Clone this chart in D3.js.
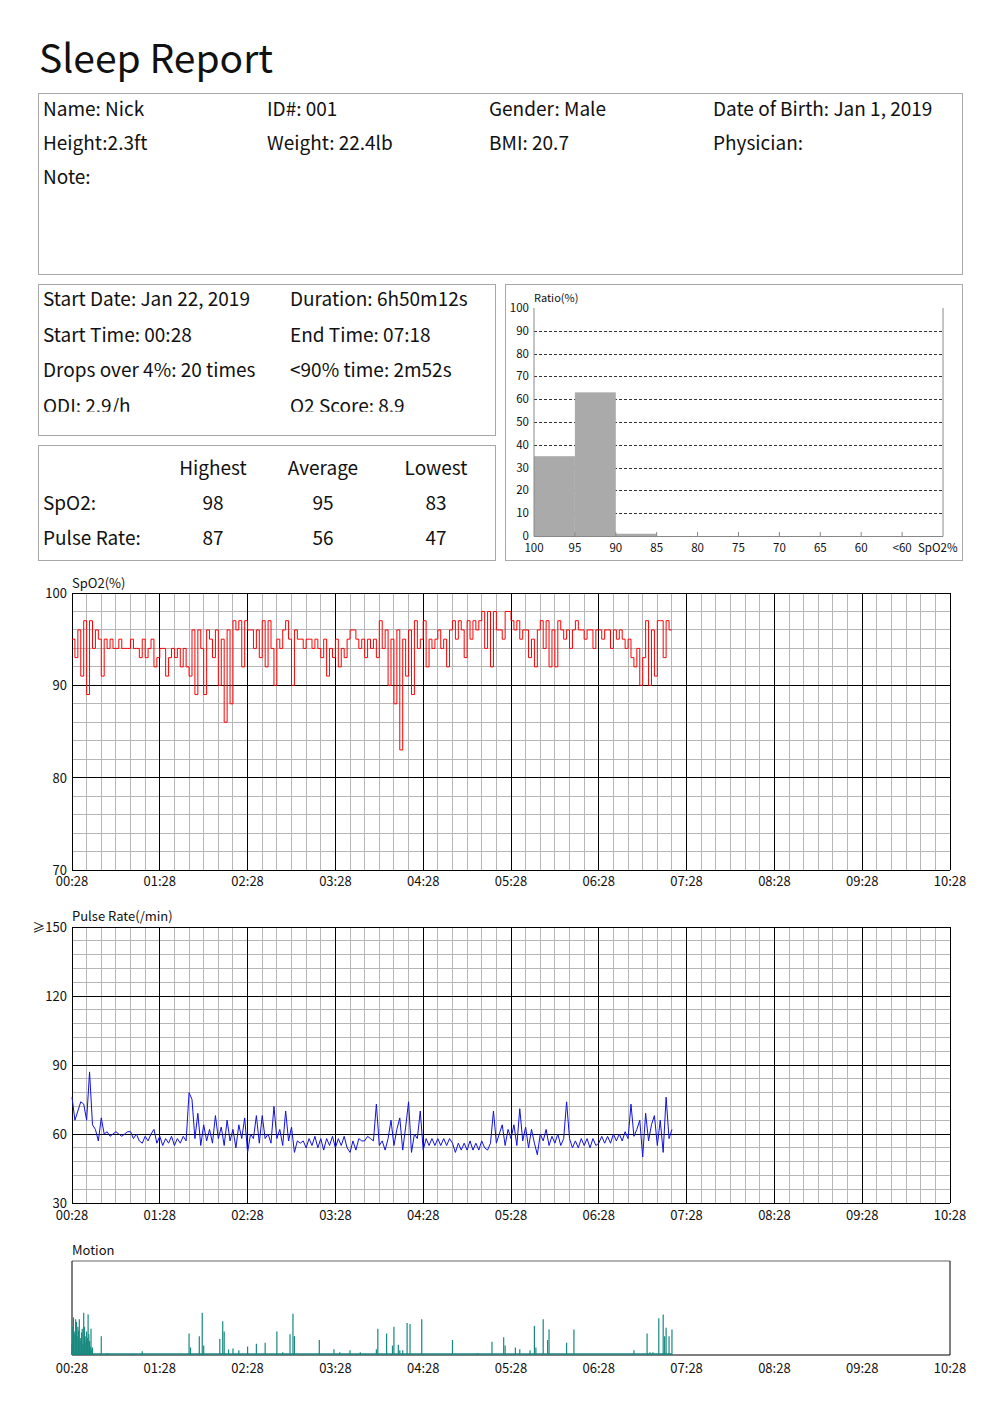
<!DOCTYPE html>
<html>
<head>
<meta charset="utf-8">
<script src="https://cdn.jsdelivr.net/npm/d3@7"></script>
<style>
  body { margin: 0; background: #fff; }
  svg { display: block; }
  text { font-family: "Noto Sans CJK SC", "Noto Sans", sans-serif; fill: #111; }
</style>
</head>
<body>
<div id="report"></div>
<script>
// ---- data ----
var hourLabels = ["00:28","01:28","02:28","03:28","04:28","05:28","06:28","07:28","08:28","09:28","10:28"];
var sampleStep = 2; // minutes between samples

// SpO2 (%) every 2 minutes from 00:28
var spo2Values = [
  95,93,96,91,97,89,97,94,96,95, 91,95,94,95,94,94,95,94,94,94,
  95,94,94,93,95,93,94,95,92,93, 94,94,91,93,94,93,94,92,94,92,
  91,96,89,96,94,89,96,95,93,96, 90,95,86,96,88,97,96,97,92,97,
  96,96,94,96,93,97,92,97,94,90, 95,94,96,97,95,90,96,95,95,94,
  95,95,94,95,94,93,95,91,94,93, 95,92,94,93,95,96,96,95,94,95,
  93,95,94,95,93,97,94,96,90,95, 88,96,83,95,91,96,89,97,94,95,
  97,92,95,94,95,96,94,95,92,96, 97,95,97,96,93,97,95,97,96,97,
  98,94,98,92,98,96,96,95,98,98, 97,96,97,95,96,96,93,95,92,96,
  97,94,97,92,96,92,97,96,95,96, 94,96,97,96,96,95,96,96,94,96,
  96,95,96,96,94,96,95,96,95,94, 95,93,92,94,90,93,97,90,96,91,
  97,97,93,97,96,96
];

// pulse rate (/min) every 2 minutes from 00:28
var pulseValues = [
  76,66,70,74,73,66,87,64,62,57, 67,60,61,59,60,61,60,59,60,61,
  61,58,60,57,56,59,57,60,62,56, 59,55,58,56,59,55,58,56,59,57,
  78,75,58,69,55,64,57,62,56,68, 58,63,55,66,57,62,54,64,58,67,
  52,60,58,68,56,68,58,60,56,72, 58,62,55,70,57,63,52,57,56,57,
  54,58,55,59,54,58,53,58,55,59, 54,58,55,59,54,52,57,53,58,57,
  57,59,58,57,73,55,57,53,58,66, 55,62,67,53,63,74,52,60,58,70,
  53,58,55,58,55,58,55,58,55,58, 56,52,56,53,56,53,57,53,56,53,
  57,54,53,56,70,56,60,64,55,62, 58,64,55,71,57,63,54,62,56,51,
  60,57,62,55,59,56,60,55,58,74, 58,54,57,54,58,55,58,54,58,55,
  56,59,56,59,56,60,57,60,57,61, 58,73,59,62,66,50,69,57,64,68,
  55,66,52,76,58,62
];

// motion spikes: [minutes from 00:28, level %]
var motionSpikes = [
  [0,12],[0.5,30],[1,40],[1.5,25],[2,22],[2.5,38],[3,35],[3.5,20],[4,30],[4.5,26],
  [5,38],[5.5,15],[6,18],[6.5,24],[7,28],[7.5,12],[8,45],[8.5,30],[9,20],[9.5,14],
  [10,25],[10.5,18],[11,43],[11.5,22],[12,15],[12.5,9],[13,28],[13.5,6],[14,8],
  [20,20],[24,2],[40,1],[48,4],[80,23],[81,8],[87,20],[89,45],[90,10],
  [101,17],[103,36],[104,25],[107,6],[110,7],[114,5],[120,9],[126,12],[132,13],
  [140,25],[144,3],[149,22],[151,44],[152,20],[169,16],[179,6],[183,3],[190,5],
  [197,3],[201,1],[208,6],[209,28],[215,23],[219,10],[220,30],[223,11],[224,5],
  [226,5],[229,34],[231,33],[239,38],[260,16],[277,2],[287,14],[295,19],[296,10],
  [303,8],[306,6],[313,5],[316,31],[317,8],[322,38],[325,16],[326,27],[338,13],
  [343,27],[384,5],[393,23],[395,3],[397,3],[401,39],[404,43],[405,20],[406,29],
  [408,20],[410,27]
];
var recordMinutes = 410;

// SpO2 distribution
var histCategories = ["100","95","90","85","80","75","70","65","60","<60"];
var histRatios = [35, 63, 1, 0, 0, 0, 0, 0, 0, 0];

// patient / summary text
var patientRows = [
  ["Name: Nick", "ID#: 001", "Gender: Male", "Date of Birth: Jan 1, 2019"],
  ["Height:2.3ft", "Weight: 22.4lb", "BMI: 20.7", "Physician:"],
  ["Note:", "", "", ""]
];
var summaryRows = [
  ["Start Date: Jan 22, 2019", "Duration: 6h50m12s"],
  ["Start Time: 00:28", "End Time: 07:18"],
  ["Drops over 4%: 20 times", "<90% time: 2m52s"],
  ["ODI: 2.9/h", "O2 Score: 8.9"]
];
var statHeaders = ["Highest", "Average", "Lowest"];
var statRows = [
  ["SpO2:", 98, 95, 83],
  ["Pulse Rate:", 87, 56, 47]
];

// ---- page ----
var W = 1000, H = 1415;
var svg = d3.select("#report").append("svg")
  .attr("width", W).attr("height", H);

svg.append("text").attr("x", 39).attr("y", 73)
  .style("font-size", "39px").text("Sleep Report");

function box(x, y, w, h) {
  svg.append("rect").attr("x", x + 0.5).attr("y", y + 0.5)
    .attr("width", w).attr("height", h)
    .attr("fill", "none").attr("stroke", "#a8a8a8");
}

// patient box
box(38, 93, 924, 181);
var patientCols = [43, 267, 489, 713];
patientRows.forEach(function(row, r) {
  row.forEach(function(s, c) {
    if (!s) return;
    svg.append("text").attr("x", patientCols[c]).attr("y", 116 + r * 34)
      .style("font-size", "19px").text(s);
  });
});

// summary box (last row is cut off in the original)
box(38, 284, 457, 151);
svg.append("clipPath").attr("id", "sumClip")
  .append("rect").attr("x", 38).attr("y", 284).attr("width", 457).attr("height", 127.7);
var sumG = svg.append("g").attr("clip-path", "url(#sumClip)");
summaryRows.forEach(function(row, r) {
  row.forEach(function(s, c) {
    sumG.append("text").attr("x", c === 0 ? 43 : 290).attr("y", 306 + r * 35.7)
      .style("font-size", "19px").text(s);
  });
});

// stats box
box(38, 445, 457, 115);
var statX = [213, 323, 436];
statHeaders.forEach(function(s, i) {
  svg.append("text").attr("x", statX[i]).attr("y", 475)
    .attr("text-anchor", "middle").style("font-size", "19px").text(s);
});
statRows.forEach(function(row, r) {
  svg.append("text").attr("x", 43).attr("y", 510 + r * 35)
    .style("font-size", "19px").text(row[0]);
  row.slice(1).forEach(function(v, i) {
    svg.append("text").attr("x", statX[i]).attr("y", 510 + r * 35)
      .attr("text-anchor", "middle").style("font-size", "19px").text(v);
  });
});

// ---- histogram ----
box(505, 284, 457, 276);
var hx = d3.scaleLinear().domain([0, 10]).range([534, 943]);
var hy = d3.scaleLinear().domain([0, 100]).range([536, 308]);
var hist = svg.append("g");

hist.selectAll("line.dash").data(d3.range(10, 100, 10)).enter().append("line")
  .attr("x1", hx(0)).attr("x2", hx(10))
  .attr("y1", function(d) { return Math.round(hy(d)) + 0.5; })
  .attr("y2", function(d) { return Math.round(hy(d)) + 0.5; })
  .attr("stroke", "#333").attr("stroke-dasharray", "3,2");

hist.selectAll("rect.bar").data(histRatios).enter().append("rect")
  .attr("x", function(d, i) { return hx(i); })
  .attr("width", hx(1) - hx(0))
  .attr("y", function(d) { return hy(d); })
  .attr("height", function(d) { return hy(0) - hy(d); })
  .attr("fill", "#aaaaaa");

// axes frame
hist.append("line").attr("x1", hx(0)).attr("x2", hx(0)).attr("y1", hy(100)).attr("y2", hy(0) + 0.5)
  .attr("stroke", "#888");
hist.append("line").attr("x1", hx(10)).attr("x2", hx(10)).attr("y1", hy(100)).attr("y2", hy(0) + 0.5)
  .attr("stroke", "#888");
hist.append("line").attr("x1", hx(0)).attr("x2", hx(10)).attr("y1", hy(0) + 0.5).attr("y2", hy(0) + 0.5)
  .attr("stroke", "#888");
hist.selectAll("line.tick").data(d3.range(1, 10)).enter().append("line")
  .attr("x1", function(d) { return hx(d); }).attr("x2", function(d) { return hx(d); })
  .attr("y1", hy(0) - 4).attr("y2", hy(0))
  .attr("stroke", "#888");

hist.selectAll("text.yl").data(d3.range(0, 101, 10)).enter().append("text")
  .attr("x", 529).attr("y", function(d) { return hy(d) + 4; })
  .attr("text-anchor", "end").style("font-size", "11.5px")
  .text(function(d) { return d; });
hist.selectAll("text.xl").data(histCategories).enter().append("text")
  .attr("x", function(d, i) { return hx(i); }).attr("y", 552)
  .attr("text-anchor", "middle").style("font-size", "11.5px")
  .text(function(d) { return d; });
hist.append("text").attr("x", 918).attr("y", 552).style("font-size", "11.5px").text("SpO2%");
hist.append("text").attr("x", 534).attr("y", 302).style("font-size", "11px").text("Ratio(%)");

// ---- time charts ----
var x = d3.scaleLinear().domain([0, 600]).range([72, 950]);

function gridChart(y, y0, y1, minorStep, majorStep, labels) {
  var g = svg.append("g");
  var top = y(y1), bottom = y(y0);
  var minor = g.append("g").attr("stroke", "#b6b6b6").attr("shape-rendering", "crispEdges");
  minor.selectAll("line.vmin").data(d3.range(10, 600, 10).filter(function(m) { return m % 60; }))
    .enter().append("line")
    .attr("x1", function(d) { return x(d); }).attr("x2", function(d) { return x(d); })
    .attr("y1", top).attr("y2", bottom);
  minor.selectAll("line.hmin").data(d3.range(y0 + minorStep, y1, minorStep).filter(function(v) { return (v - y0) % majorStep; }))
    .enter().append("line")
    .attr("x1", x(0)).attr("x2", x(600))
    .attr("y1", function(d) { return y(d); }).attr("y2", function(d) { return y(d); });
  var major = g.append("g").attr("stroke", "#000").attr("shape-rendering", "crispEdges");
  major.selectAll("line.vmaj").data(d3.range(0, 601, 60)).enter().append("line")
    .attr("x1", function(d) { return x(d); }).attr("x2", function(d) { return x(d); })
    .attr("y1", top).attr("y2", bottom);
  major.selectAll("line.hmaj").data(d3.range(y0, y1 + 1, majorStep)).enter().append("line")
    .attr("x1", x(0)).attr("x2", x(600))
    .attr("y1", function(d) { return y(d); }).attr("y2", function(d) { return y(d); });
  g.selectAll("text.yl").data(labels).enter().append("text")
    .attr("x", 67).attr("y", function(d) { return y(d.v) + 5; })
    .attr("text-anchor", "end").style("font-size", "13px")
    .text(function(d) { return d.t; });
  return g;
}

function timeLabels(yPos) {
  svg.append("g").selectAll("text").data(hourLabels).enter().append("text")
    .attr("x", function(d, i) { return x(i * 60); }).attr("y", yPos)
    .attr("text-anchor", "middle").style("font-size", "13px")
    .text(function(d) { return d; });
}

// SpO2
var ySpo2 = d3.scaleLinear().domain([70, 100]).range([870, 593]);
gridChart(ySpo2, 70, 100, 2, 10, [{v:100,t:"100"},{v:90,t:"90"},{v:80,t:"80"},{v:70,t:"70"}]);
svg.append("text").attr("x", 72).attr("y", 588).style("font-size", "13px").text("SpO2(%)");
svg.append("path").datum(spo2Values)
  .attr("fill", "none").attr("stroke", "#ff0000").attr("stroke-width", 1)
  .attr("d", d3.line()
    .x(function(d, i) { return x(i * sampleStep); })
    .y(function(d) { return ySpo2(d); })
    .curve(d3.curveStepAfter));
timeLabels(886);

// pulse
var yPulse = d3.scaleLinear().domain([30, 150]).range([1203, 927]);
gridChart(yPulse, 30, 150, 6, 30, [{v:150,t:"≥150"},{v:120,t:"120"},{v:90,t:"90"},{v:60,t:"60"},{v:30,t:"30"}]);
svg.append("text").attr("x", 72).attr("y", 921).style("font-size", "13px").text("Pulse Rate(/min)");
svg.append("path").datum(pulseValues)
  .attr("fill", "none").attr("stroke", "#1010e0").attr("stroke-width", 1)
  .attr("d", d3.line()
    .x(function(d, i) { return x(i * sampleStep); })
    .y(function(d) { return yPulse(d); }));
timeLabels(1220);

// motion
var yMotion = d3.scaleLinear().domain([0, 100]).range([1355, 1261]);
var mg = svg.append("g");
mg.append("line").attr("x1", x(0)).attr("x2", x(600)).attr("y1", yMotion(100)).attr("y2", yMotion(100))
  .attr("stroke", "#999").attr("stroke-width", 1.5);
mg.append("line").attr("x1", x(0)).attr("x2", x(600)).attr("y1", yMotion(0)).attr("y2", yMotion(0))
  .attr("stroke", "#000");
mg.append("line").attr("x1", x(0)).attr("x2", x(0)).attr("y1", yMotion(100)).attr("y2", yMotion(0))
  .attr("stroke", "#000");
mg.append("line").attr("x1", x(600)).attr("x2", x(600)).attr("y1", yMotion(100)).attr("y2", yMotion(0))
  .attr("stroke", "#000");
mg.append("line").attr("x1", x(0)).attr("x2", x(recordMinutes)).attr("y1", yMotion(1)).attr("y2", yMotion(1))
  .attr("stroke", "#17897f").attr("stroke-width", 1.5);
mg.selectAll("line.spike").data(motionSpikes).enter().append("line")
  .attr("x1", function(d) { return x(d[0]); }).attr("x2", function(d) { return x(d[0]); })
  .attr("y1", yMotion(0)).attr("y2", function(d) { return yMotion(d[1]); })
  .attr("stroke", "#17897f").attr("stroke-width", 1.2);
svg.append("text").attr("x", 72).attr("y", 1255).style("font-size", "13px").text("Motion");
timeLabels(1373);
</script>
</body>
</html>
